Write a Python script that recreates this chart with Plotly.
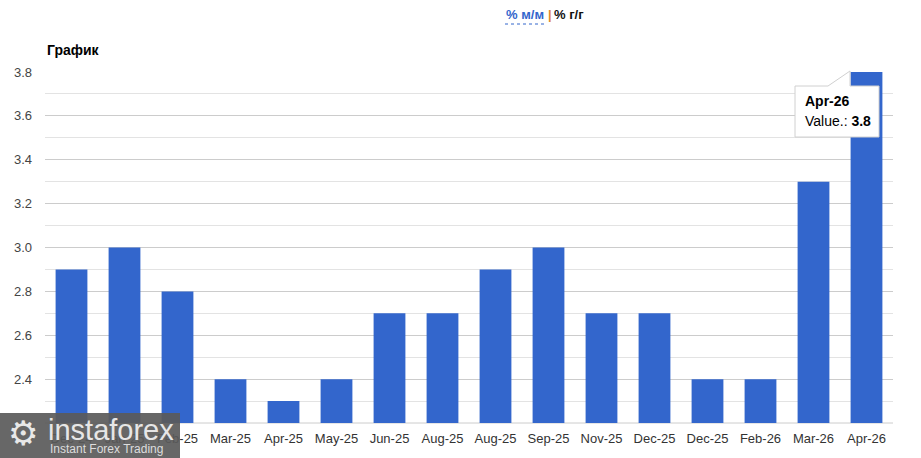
import plotly.graph_objects as go

categories = ["Dec-24", "Jan-25", "Feb-25", "Mar-25", "Apr-25", "May-25", "Jun-25", "Aug-25",
              "Aug-25", "Sep-25", "Nov-25", "Dec-25", "Dec-25", "Feb-26", "Mar-26", "Apr-26"]
values = [2.9, 3.0, 2.8, 2.4, 2.3, 2.4, 2.7, 2.7, 2.9, 3.0, 2.7, 2.7, 2.4, 2.4, 3.3, 3.8]
y_ticks = [2.4, 2.6, 2.8, 3.0, 3.2, 3.4, 3.6, 3.8]

W, H = 921, 458
L, R, T, B = 45, 28, 72, 35
pw, ph = W - L - R, H - T - B

def px(x):
    return (x - L) / pw

def py(y):
    return (H - B - y) / ph

idx = list(range(len(categories)))
fig = go.Figure(go.Bar(
    x=idx, y=values, marker=dict(color="#3366cc", line=dict(width=0)),
    hoverinfo="skip"))

fig.update_layout(
    width=W, height=H, margin=dict(l=L, r=R, t=T, b=B),
    plot_bgcolor="white", paper_bgcolor="white",
    bargap=0.4, showlegend=False,
    font=dict(family="Liberation Sans, Arial, sans-serif", size=13, color="#333"),
    xaxis=dict(range=[-0.5, len(categories) - 0.5], tickvals=idx, ticktext=categories,
               showgrid=False, zeroline=False, ticks="", showline=False,
               ticklabelstandoff=6,
               tickfont=dict(size=13, color="#333")),
    yaxis=dict(range=[2.2, 3.8], tickvals=y_ticks, tickformat=".1f",
               showgrid=True, gridcolor="#cccccc", gridwidth=1, zeroline=False,
               ticks="", showline=False, tickfont=dict(size=13, color="#444"),
               ticklabelstandoff=12,
               minor=dict(dtick=0.1, showgrid=True, gridcolor="#e3e3e3", gridwidth=1)),
)

shapes = []
shapes.append(dict(type="line", xref="paper", yref="paper", x0=0, x1=1, y0=0, y1=0,
                   line=dict(color="#cccccc", width=1), layer="below"))
bx0, bx1, by0, by1 = px(795), px(879), py(137), py(86)
tipx, tipy = px(850), py(71)
path = (f"M {bx0},{by1} L {px(828)},{by1} L {tipx},{tipy} L {px(850)},{by1} L {bx1},{by1} "
        f"L {bx1},{by0} L {bx0},{by0} Z")
shapes.append(dict(type="path", xref="paper", yref="paper", path=path,
                   fillcolor="white", line=dict(color="#d0d0d0", width=1), layer="above"))
shapes.append(dict(type="rect", xref="paper", yref="paper",
                   x0=px(0), x1=px(180), y0=py(458), y1=py(413),
                   fillcolor="rgba(90,90,90,0.92)", line=dict(width=0), layer="above"))
shapes.append(dict(type="line", xref="paper", yref="paper", x0=px(505), x1=px(545),
                   y0=py(24), y1=py(24), line=dict(color="#3366cc", width=1, dash="dot")))

annotations = [
    dict(text="<b>График</b>", xref="paper", yref="paper", x=px(45), y=py(50), xanchor="left",
         yanchor="middle", showarrow=False, font=dict(size=14, color="#000")),
    dict(text="<b>% м/м</b>", xref="paper", yref="paper", x=px(504), y=py(15),
         xanchor="left", yanchor="middle", showarrow=False,
         font=dict(size=13, color="#3366cc")),
    dict(text="<b>|</b>", xref="paper", yref="paper", x=px(546), y=py(15),
         xanchor="left", yanchor="middle", showarrow=False,
         font=dict(size=13, color="#e08a2e")),
    dict(text="<b>% г/г</b>", xref="paper", yref="paper", x=px(552), y=py(15),
         xanchor="left", yanchor="middle", showarrow=False,
         font=dict(size=13, color="#111")),
    dict(text="<b>Apr-26</b>", xref="paper", yref="paper", x=px(803), y=py(101),
         xanchor="left", yanchor="middle", showarrow=False,
         font=dict(size=14, color="#000")),
    dict(text=f"Value.: <b>{values[-1]:.1f}</b>", xref="paper", yref="paper", x=px(803), y=py(121),
         xanchor="left", yanchor="middle", showarrow=False,
         font=dict(size=14, color="#000")),
    dict(text="⚙", xref="paper", yref="paper", x=px(6), y=py(433),
         xanchor="left", yanchor="middle", showarrow=False,
         font=dict(size=34, color="#e8e8e8")),
    dict(text="instaforex", xref="paper", yref="paper", x=px(46), y=py(430),
         xanchor="left", yanchor="middle", showarrow=False,
         font=dict(size=29, color="#e6e6e6")),
    dict(text="Instant Forex Trading", xref="paper", yref="paper", x=px(48), y=py(449),
         xanchor="left", yanchor="middle", showarrow=False,
         font=dict(size=12, color="#dddddd")),
]
fig.update_layout(shapes=shapes, annotations=annotations)

fig.write_html("out.html", config={"displayModeBar": False},
               post_script="document.body.style.margin='0';document.body.style.padding='0';")
